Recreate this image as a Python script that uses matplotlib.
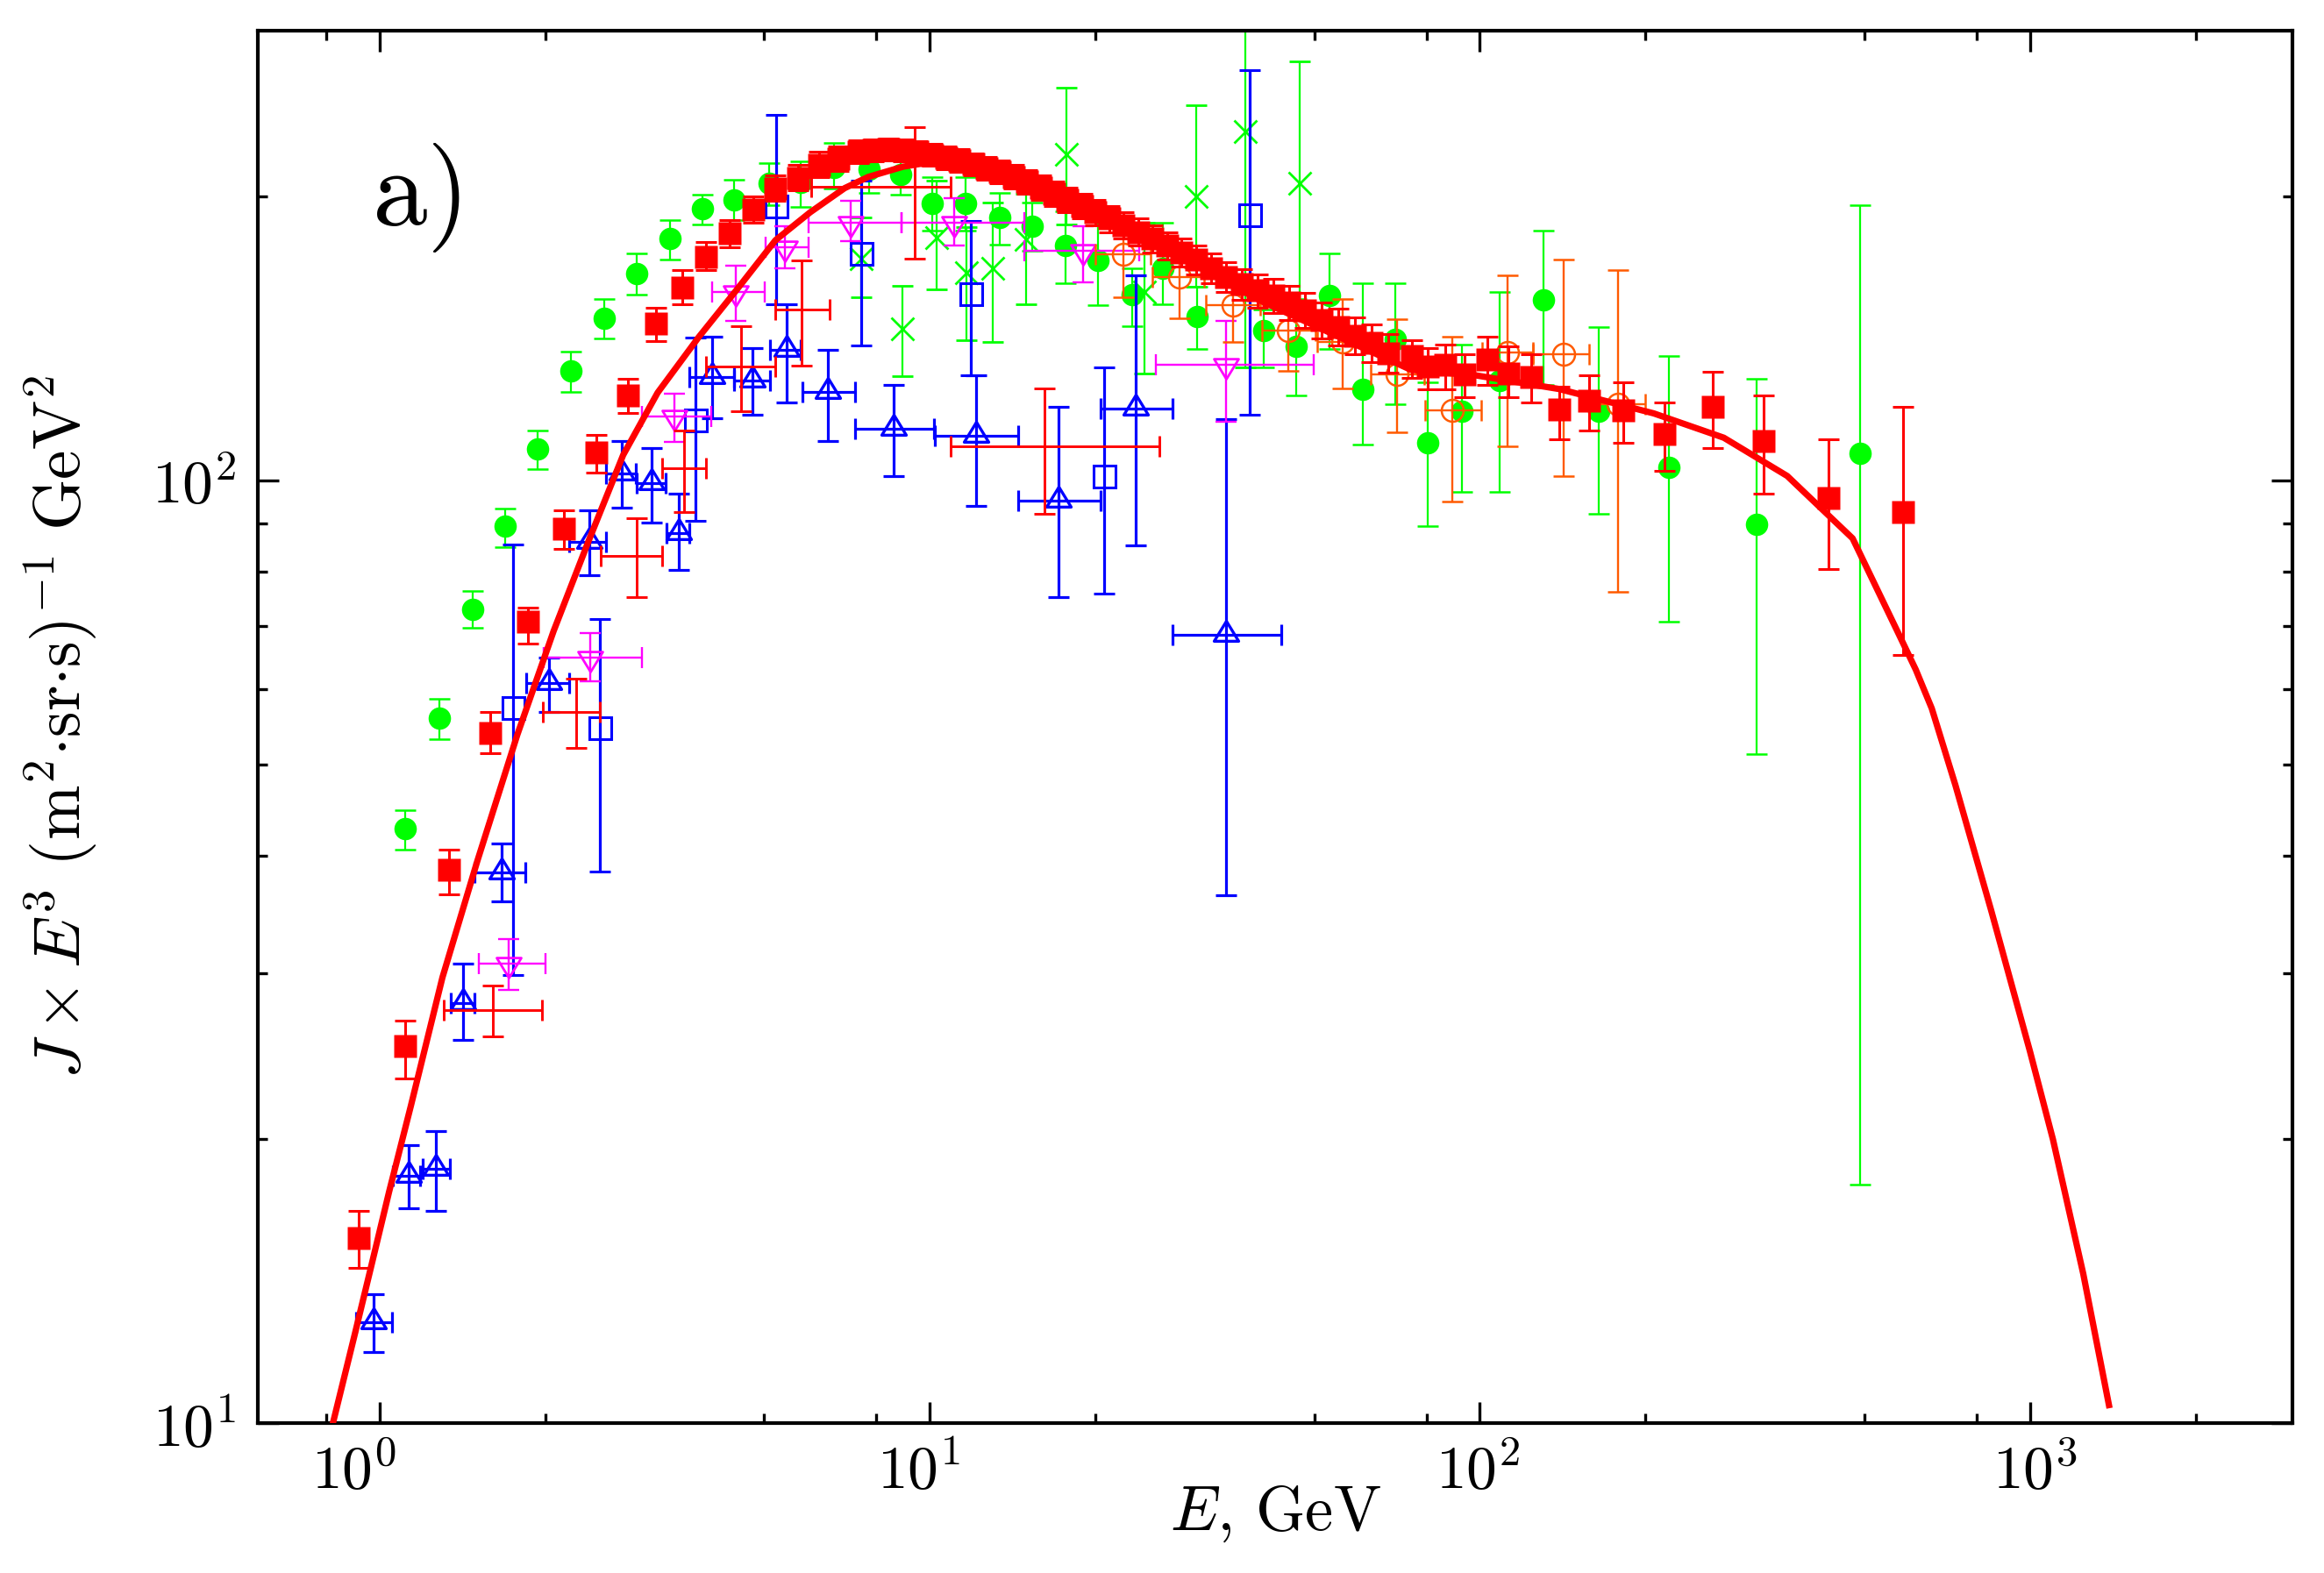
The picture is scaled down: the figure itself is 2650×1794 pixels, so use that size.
import matplotlib
matplotlib.use('Agg')
import matplotlib.pyplot as plt
import numpy as np
from matplotlib.path import Path
from matplotlib.transforms import ScaledTranslation
from matplotlib.ticker import FixedLocator, NullFormatter, FuncFormatter

plt.rcParams['mathtext.fontset'] = 'cm'
plt.rcParams['font.family'] = ['DejaVu Serif']

# ---------------- data ----------------
# red filled squares
rs_E = [0.914, 1.111, 1.335, 1.588, 1.858, 2.158, 2.476, 2.83, 3.179, 3.544, 3.924, 4.328, 4.77, 5.243, 5.761,
        6.287, 6.81, 7.43, 7.9, 8.4, 8.95, 9.5, 10.1, 10.7, 11.3, 12.0, 12.7, 13.4, 14.2, 15.0, 15.9, 16.8, 17.8,
        18.9, 20.0, 21.2, 22.5, 23.9, 25.4, 27.0, 28.7, 30.5, 32.5, 34.6, 36.9, 39.4, 42.1, 45.0, 48.1, 51.5,
        55.2, 59.2, 63.5, 68.2, 75.2, 80.3, 86.4, 93.8, 103.0, 112.8, 123.9, 139.5, 158.1, 182.2, 216.9, 264.6,
        327.6, 430.3, 588.1]
rs_Y = [15.7, 25.1, 38.6, 54.0, 70.8, 88.8, 107.0, 123.1, 146.8, 160.1, 172.8, 182.9, 194.0, 204.2, 209.4,
        216.3, 219.5, 223.3, 224.0, 224.5, 224.0, 223.0, 221.5, 220.0, 218.5, 216.5, 214.5, 212.5, 210.0, 207.5,
        204.5, 201.5, 198.5, 195.5, 192.5, 189.5, 186.5, 183.5, 180.5, 177.5, 174.5, 171.5, 168.0, 164.5, 161.5,
        159.0, 157.0, 154.5, 151.5, 148.0, 145.5, 142.5, 140.0, 136.5, 135.4, 132.1, 132.6, 129.5, 134.5, 129.8,
        128.7, 118.8, 121.5, 118.6, 111.9, 119.6, 110.1, 95.7, 92.5]
rs_lo = [14.6, 23.2, 36.4, 51.4, 67.2, 84.6, 102.0, 117.8, 140.6, 153.8, 167.0, 176.8, 187.7, 198.0, 203.0,
         210.0, 213.0, 217.0, 218.0, 218.5, 218.0, 217.0, 215.5, 214.0, 212.5, 210.5, 208.5, 206.5, 204.0, 201.5,
         198.5, 195.5, 192.5, 189.5, 186.5, 183.5, 180.5, 177.5, 174.5, 171.5, 168.5, 165.5, 162.0, 158.5, 155.5,
         152.5, 150.5, 148.0, 145.0, 141.5, 139.0, 136.0, 133.5, 130.0, 128.5, 124.8, 125.0, 122.6, 126.3, 122.6,
         121.0, 110.5, 113.0, 109.7, 102.4, 108.2, 96.8, 80.6, 65.3]
rs_hi = [16.8, 26.7, 40.6, 56.8, 73.3, 92.9, 111.7, 128.3, 152.5, 167.0, 179.0, 188.8, 200.0, 210.5, 216.0,
         223.0, 226.0, 229.5, 230.0, 230.5, 230.0, 229.0, 227.5, 226.0, 224.5, 222.5, 220.5, 218.5, 216.0, 213.5,
         210.5, 207.5, 204.5, 201.5, 198.5, 195.5, 192.5, 189.5, 186.5, 183.5, 180.5, 177.5, 174.0, 170.5, 167.5,
         165.5, 163.5, 161.0, 158.0, 154.5, 152.0, 149.0, 146.5, 143.0, 141.0, 138.3, 139.5, 136.0, 142.1, 138.9,
         136.0, 125.8, 129.3, 127.1, 121.0, 130.4, 123.1, 110.5, 119.8]

# green filled circles
gc_E = [1.112, 1.284, 1.477, 1.69, 1.935, 2.227, 2.56, 2.927, 3.37, 3.86, 4.41, 5.10, 5.83, 6.70, 7.75, 8.84,
        10.1, 11.62, 13.4, 15.35, 17.65, 20.25, 23.3, 26.5, 30.6, 40.45, 46.4, 53.3, 61.2, 70.2, 80.4, 92.6,
        108.7, 130.6, 164.3, 221.0, 318.0, 492.0]
gc_Y = [42.7, 56.0, 73.0, 89.5, 108.0, 130.6, 148.7, 165.7, 180.5, 194.2, 198.5, 206.8, 207.0, 215.0, 213.8,
        211.0, 196.8, 196.8, 189.9, 186.2, 177.6, 171.2, 157.4, 167.8, 149.1, 144.2, 138.9, 157.0, 125.0, 141.3,
        109.6, 118.4, 127.6, 155.4, 118.4, 103.2, 89.9, 106.8]
gc_lo = [40.6, 53.2, 69.7, 85.0, 102.8, 124.2, 141.6, 157.5, 171.4, 187.0, 188.8, 196.0, 195.0, 204.0, 202.0,
         201.0, 184.0, 184.0, 178.0, 175.4, 162.0, 153.4, 145.8, 153.8, 137.8, 131.7, 123.1, 137.9, 109.2, 120.5,
         89.4, 97.3, 97.3, 126.3, 92.1, 70.8, 51.3, 17.9]
gc_hi = [44.7, 58.6, 76.3, 93.3, 112.9, 136.9, 155.7, 174.2, 189.0, 201.0, 208.6, 217.0, 218.0, 228.0, 226.0,
         222.0, 210.0, 210.0, 202.0, 197.0, 193.0, 190.0, 168.0, 187.6, 160.4, 151.8, 155.7, 174.2, 161.8, 161.8,
         127.0, 139.5, 158.3, 184.0, 145.6, 135.4, 128.2, 196.0]

# green crosses (x)
gx_E = [7.5, 8.9, 10.28, 11.65, 13.0, 14.95, 17.7, 24.6, 30.5, 37.4, 46.97]
gx_Y = [172.0, 144.8, 181.0, 166.0, 168.0, 180.0, 222.0, 158.5, 200.0, 234.4, 206.5]
gx_lo = [156.6, 128.9, 159.6, 140.8, 140.1, 153.8, 187.0, 129.8, 160.4, 131.8, 150.0]
gx_hi = [190.0, 160.9, 208.0, 185.5, 197.0, 201.6, 261.0, 187.6, 250.2, 320.0, 278.5]

# blue open triangles
bt_E = [0.973, 1.128, 1.266, 1.416, 1.666, 2.032, 2.402, 2.757, 3.124, 3.49, 4.025, 4.756, 5.494, 6.535, 8.60,
        12.13, 17.13, 23.64, 34.5]
bt_Y = [12.8, 18.3, 18.6, 27.9, 38.4, 60.9, 86.1, 101.8, 99.4, 87.9, 128.8, 127.6, 137.7, 124.1, 113.5, 111.6,
        95.1, 119.3, 68.6]
bt_lo = [11.9, 16.9, 16.8, 25.5, 35.8, 56.8, 79.3, 93.5, 90.2, 80.3, 116.3, 117.3, 121.1, 110.2, 101.1, 93.9,
         75.2, 85.4, 36.3]
bt_hi = [13.7, 19.7, 20.4, 30.7, 41.2, 64.9, 92.9, 110.0, 108.2, 96.8, 142.1, 138.3, 153.8, 137.5, 126.2, 129.3,
         119.8, 165.2, 116.1]
bt_xlo = [0.904, 1.055, 1.196, 1.348, 1.488, 1.844, 2.212, 2.58, 2.935, 3.32, 3.66, 4.405, 5.12, 5.86, 7.31,
          10.2, 14.49, 20.45, 27.6]
bt_xhi = [1.052, 1.184, 1.343, 1.484, 1.839, 2.212, 2.576, 2.926, 3.306, 3.66, 4.405, 5.115, 5.82, 7.30, 10.19,
          14.49, 20.45, 27.6, 43.5]

# blue open squares
bs_E = [1.75, 2.51, 3.75, 5.25, 7.50, 11.86, 20.75, 38.15]
bs_Y = [57.4, 54.6, 115.8, 195.6, 174.0, 157.8, 101.1, 191.3]
bs_lo = [29.9, 38.5, 90.6, 153.8, 139.0, 129.3, 75.8, 117.3]
bs_hi = [85.5, 71.3, 141.9, 244.0, 207.8, 188.3, 131.7, 272.7]

# magenta open down-triangles
mg_E = [1.716, 2.413, 3.427, 4.436, 5.46, 7.19, 11.08, 19.0, 34.5]
mg_Y = [30.7, 64.9, 116.8, 158.4, 176.8, 187.6, 187.6, 175.4, 132.6]
mg_lo = [28.8, 61.2, 109.9, 147.8, 167.8, 179.3, 177.5, 162.4, 115.3]
mg_hi = [32.6, 68.9, 123.7, 168.8, 186.0, 197.8, 199.4, 186.0, 147.8]
mg_xlo = [1.512, 1.99, 3.0, 4.02, 5.02, 6.02, 8.87, 14.86, 25.8]
mg_xhi = [2.0, 3.0, 4.01, 5.006, 6.02, 8.89, 14.86, 23.99, 49.9]

# red crosses (error bars only)
rc_E = [1.607, 2.276, 2.935, 3.58, 4.536, 5.848, 9.4, 16.17]
rc_Y = [27.4, 56.8, 83.1, 103.0, 132.1, 151.8, 204.7, 108.7]
rc_lo = [25.7, 52.0, 75.2, 92.5, 118.3, 132.4, 172.0, 92.1]
rc_hi = [29.1, 61.6, 91.2, 113.0, 145.8, 171.2, 237.2, 125.2]
rc_xlo = [1.307, 1.977, 2.52, 3.26, 3.924, 5.24, 6.08, 10.91]
rc_xhi = [1.97, 2.513, 3.26, 3.924, 5.24, 6.565, 10.91, 26.1]

# orange open circles
oc_E = [22.5, 28.4, 35.6, 44.8, 56.2, 70.7, 89.2, 112.1, 142.0, 178.6]
oc_Y = [173.8, 164.3, 153.3, 144.3, 140.1, 129.5, 118.6, 136.8, 136.0, 120.5]
oc_lo = [156.6, 148.6, 140.1, 130.6, 125.2, 112.6, 95.0, 108.6, 101.1, 76.1]
oc_hi = [188.0, 178.0, 165.2, 157.1, 155.7, 148.2, 142.1, 165.2, 171.4, 167.0]
oc_xlo = [20.0, 25.4, 31.7, 40.1, 50.7, 63.3, 79.5, 101.0, 125.0, 158.0]
oc_xhi = [25.2, 31.5, 39.9, 50.3, 63.1, 79.3, 100.6, 125.0, 158.0, 200.0]

# model curve
model_E = [0.822, 0.90, 0.963, 1.04, 1.139, 1.30, 1.505, 1.778, 2.07, 2.394, 2.77, 3.2, 3.8, 4.47, 5.24, 6.06,
           7.0, 7.73, 8.94, 10.0, 12.0, 15.0, 20.0, 30.0, 40.0, 50.0, 60.0, 75.0, 98.0, 139.5, 207.0, 277.6,
           362.0, 476.0, 574.0, 620.0, 663.0, 732.0, 850.0, 1000.0, 1101.0, 1250.0, 1392.0]
model_Y = [10.0, 12.4, 14.6, 17.6, 21.7, 29.7, 39.5, 53.7, 69.2, 86.1, 106.4, 123.9, 141.9, 159.7, 179.8, 192.5,
           204.2, 209.9, 215.2, 217.5, 216.0, 207.0, 192.0, 170.0, 155.0, 146.0, 139.0, 131.0, 129.3, 125.0, 117.8,
           111.0, 101.1, 86.8, 69.2, 63.0, 57.3, 47.5, 35.0, 24.8, 20.0, 14.4, 10.45]

# axis tick values
x_major = [1, 10, 100, 1000]
x_minor = [0.8, 2, 5, 8, 20, 50, 80, 200, 500, 800, 2000]
y_major = [10, 100]
y_minor = [20, 30, 40, 50, 60, 70, 80, 90, 200]

# ---------------- figure ----------------
fig = plt.figure(figsize=(13.25, 8.97), dpi=200)
ax = fig.add_axes([0.1109, 0.0953, 0.8755, 0.8852])
ax.set_xscale('log')
ax.set_yscale('log')

# triangles whose data point sits near the base (as in the original)
TRI_UP = Path([(0, 1.0), (-0.875, -0.43), (0.875, -0.43), (0, 1.0)],
              [Path.MOVETO, Path.LINETO, Path.LINETO, Path.CLOSEPOLY])
TRI_DN = Path([(0, -1.0), (-0.875, 0.43), (0.875, 0.43), (0, -1.0)],
              [Path.MOVETO, Path.LINETO, Path.LINETO, Path.CLOSEPOLY])


def eb(E, Y, lo, hi, xlo=None, xhi=None, **kw):
    E = np.asarray(E, float)
    Y = np.asarray(Y, float)
    yerr = [Y - np.asarray(lo, float), np.asarray(hi, float) - Y]
    xerr = None
    if xlo is not None:
        xerr = [E - np.asarray(xlo, float), np.asarray(xhi, float) - E]
    ax.errorbar(E, Y, yerr=yerr, xerr=xerr, **kw)


GREEN = '#00ff00'
BLUE = '#0000ff'
MAG = '#ff00ff'
RED = '#ff0000'
ORG = '#ff5a00'
CAP = 4.3

eb(gx_E, gx_Y, gx_lo, gx_hi, fmt='x', color=GREEN, ms=9.5, mew=1.0, elinewidth=0.8,
   capsize=CAP, capthick=0.8, zorder=2)
eb(gc_E, gc_Y, gc_lo, gc_hi, fmt='o', color=GREEN, ms=9.2, mec='none', elinewidth=0.8,
   capsize=CAP, capthick=0.9, zorder=3)
eb(bt_E, bt_Y, bt_lo, bt_hi, bt_xlo, bt_xhi, fmt='none', ecolor=BLUE, elinewidth=1.15,
   capsize=CAP, capthick=1.15, zorder=4)
ax.plot(bt_E, bt_Y, ls='none', marker=TRI_UP, ms=11.5, mfc='none', mec=BLUE, mew=1.2, zorder=4)
eb(bs_E, bs_Y, bs_lo, bs_hi, fmt='s', color=BLUE, mfc='none', mec=BLUE, ms=9.0, mew=1.1,
   elinewidth=1.15, capsize=CAP, capthick=1.15, zorder=4)
eb(mg_E, mg_Y, mg_lo, mg_hi, mg_xlo, mg_xhi, fmt='none', ecolor=MAG, elinewidth=0.85,
   capsize=CAP, capthick=0.85, zorder=5)
ax.plot(mg_E, mg_Y, ls='none', marker=TRI_DN, ms=11.5, mfc='none', mec=MAG, mew=1.0, zorder=5)
eb(rc_E, rc_Y, rc_lo, rc_hi, rc_xlo, rc_xhi, fmt='none', ecolor=RED, elinewidth=1.05,
   capsize=CAP, capthick=1.05, zorder=5)
eb(oc_E, oc_Y, oc_lo, oc_hi, oc_xlo, oc_xhi, fmt='o', color=ORG, mfc='none', mec=ORG, ms=9.0,
   mew=0.9, elinewidth=0.85, capsize=CAP, capthick=0.85, zorder=6)
eb(rs_E, rs_Y, rs_lo, rs_hi, fmt='s', color=RED, ms=9.3, mec='none', elinewidth=1.1,
   capsize=CAP, capthick=1.1, zorder=7)
ax.plot(model_E, model_Y, color=RED, lw=2.6, zorder=8, solid_joinstyle='round')

ax.set_xlim(0.6, 3000)
ax.set_ylim(10, 300)

ax.xaxis.set_major_locator(FixedLocator(x_major))
ax.xaxis.set_minor_locator(FixedLocator(x_minor))
ax.yaxis.set_major_locator(FixedLocator(y_major))
ax.yaxis.set_minor_locator(FixedLocator(y_minor))
fmt = FuncFormatter(lambda v, p: r'$10^{%d}$' % int(round(np.log10(v))))
ax.xaxis.set_major_formatter(fmt)
ax.yaxis.set_major_formatter(fmt)
ax.xaxis.set_minor_formatter(NullFormatter())
ax.yaxis.set_minor_formatter(NullFormatter())

for s in ax.spines.values():
    s.set_linewidth(1.5)
ax.tick_params(which='both', direction='in', top=True, right=True, width=1.2)
ax.tick_params(which='major', length=8.6, labelsize=25)
ax.tick_params(which='minor', length=4.1)
ax.tick_params(axis='x', pad=8)
ax.tick_params(axis='y', pad=9)

# small horizontal shifts of the x tick labels, as placed in the original
label_shift_px = [-30, -13, -2, 6]
for lab, dx in zip(ax.get_xticklabels(), label_shift_px):
    lab.set_transform(lab.get_transform() + ScaledTranslation(dx / 200.0, 0, fig.dpi_scale_trans))

ax.set_xlabel(r'$E$, GeV', fontsize=26, fontfamily='cmr10')
ax.xaxis.set_label_coords(0.5, -0.044)
ax.set_ylabel(r'$J\times E^3\ (\mathrm{m}^2{\cdot}\mathrm{sr}{\cdot}\mathrm{s})^{-1}\ \mathrm{GeV}^2$', fontsize=27)
ax.yaxis.set_label_coords(-0.078, 0.5)

ax.text(0.078, 0.86, r'$\mathrm{a)}$', transform=ax.transAxes, fontsize=45, ha='center', va='baseline')

fig.savefig('out.png', dpi=200)
